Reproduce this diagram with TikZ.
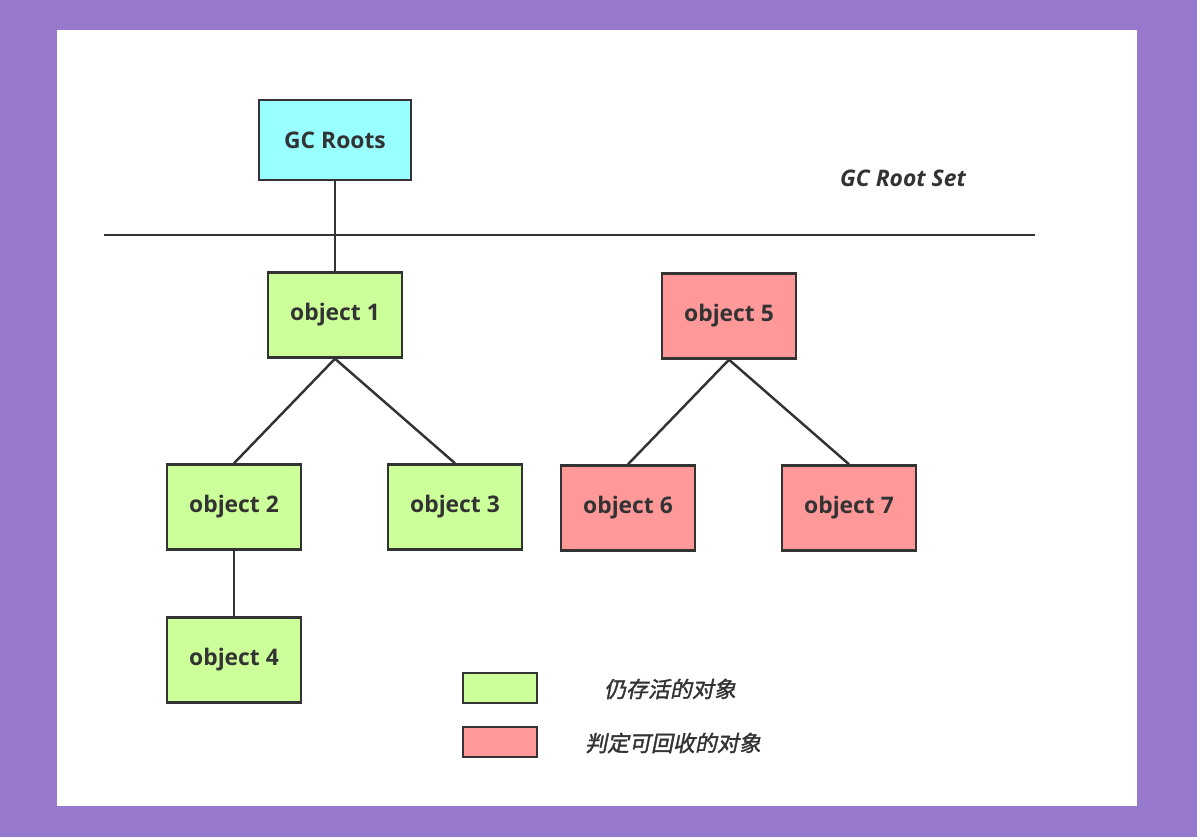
\documentclass[tikz,border=0pt]{standalone}
\usepackage{fontspec}
\setmainfont{Open Sans}
\newfontfamily\cjk{Noto Sans CJK SC}[FakeSlant=0.2,FakeBold=1.5]
\usepackage{tikz}
\definecolor{gcBack}{RGB}{150, 120, 205}
\definecolor{gcCyan}{RGB}{153, 255, 255}
\definecolor{gcLive}{RGB}{204, 255, 153}
\definecolor{gcDead}{RGB}{255, 153, 153}
\definecolor{gcInk}{RGB}{51, 51, 51}

\tikzset{
  obj/.style={draw=gcInk, line width=1.4pt, minimum width=2.68cm, minimum height=1.7cm,
    text=gcInk, font=\fontsize{13}{15}\selectfont\bfseries},
  live/.style={obj, fill=gcLive},
  dead/.style={obj, fill=gcDead},
  key/.style={draw=gcInk, line width=1.4pt, minimum width=1.48cm, minimum height=0.6cm},
  link/.style={draw=gcInk, line width=1.4pt}
}

\begin{document}
\begin{tikzpicture}[x=0.02cm, y=-0.02cm]
% background and panel
\fill[gcBack] (0,0) rectangle (1197,837);
\fill[white] (57,30) rectangle (1137,806);
\useasboundingbox (0,0) rectangle (1197,837);

% root set
\node[obj, fill=gcCyan, minimum width=3.04cm, minimum height=1.6cm] (roots) at (335,140) {GC Roots};
\node[text=gcInk, font=\fontsize{13}{15}\selectfont\bfseries\itshape] (setlabel) at (903,178) {GC Root Set};
\coordinate (lineL) at (104,235);
\coordinate (lineR) at (1035,235);
\draw[link] (lineL) -- (lineR);

% objects
\node[live] (obj1) at (335,315) {object 1};
\node[live] (obj2) at (234,507) {object 2};
\node[live] (obj3) at (455,507) {object 3};
\node[live] (obj4) at (234,660) {object 4};
\node[dead] (obj5) at (729,316) {object 5};
\node[dead] (obj6) at (628,508) {object 6};
\node[dead] (obj7) at (849,508) {object 7};

% references
\draw[link] (roots.south) -- (obj1.north);
\draw[link] (obj1.south) -- (obj2.north);
\draw[link] (obj1.south) -- (obj3.north);
\draw[link] (obj2.south) -- (obj4.north);
\draw[link] (obj5.south) -- (obj6.north);
\draw[link] (obj5.south) -- (obj7.north);

% legend
\node[key, fill=gcLive] (keyLive) at (500,688) {};
\node[key, fill=gcDead] (keyDead) at (500,742) {};
\node[text=gcInk, font=\fontsize{12.5}{15}\selectfont\cjk] (txtLive) at (670,689) {仍存活的对象};
\node[text=gcInk, font=\fontsize{12.5}{15}\selectfont\cjk] (txtDead) at (673,743) {判定可回收的对象};
\end{tikzpicture}
\end{document}
